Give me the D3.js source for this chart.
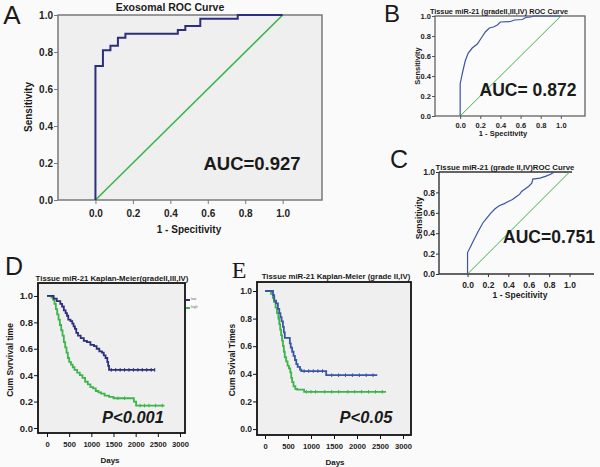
<!DOCTYPE html>
<html><head><meta charset="utf-8">
<script src="https://cdn.jsdelivr.net/npm/d3@7"></script>
<style>
body{margin:0;background:#fafafa}
svg{display:block}
text{font-family:"Liberation Sans",Arial,sans-serif}
</style>
</head><body>
<svg id="c" width="600" height="467"></svg>
<script>
// ---------------- DATA ----------------
const rocTicks = [0, 0.2, 0.4, 0.6, 0.8, 1.0];
const survTicks = [0, 0.2, 0.4, 0.6, 0.8, 1.0];
const dayTicks = [0, 500, 1000, 1500, 2000, 2500, 3000];
const diagonal = [[0, 0], [1, 1]];

// Panel A: exosomal ROC (1-specificity, sensitivity)
const rocA = [[0,0],[0,0.725],[0.04,0.725],[0.04,0.81],[0.08,0.81],[0.08,0.834],[0.12,0.834],[0.12,0.877],
  [0.16,0.877],[0.16,0.899],[0.44,0.899],[0.44,0.919],[0.48,0.919],[0.48,0.94],[0.56,0.94],[0.56,0.98],
  [0.76,0.98],[0.76,1.0],[1.0,1.0]];
// Panel B: tissue ROC grade II,III,IV
const rocB = [[0,0],[0,0.32],[0.02,0.42],[0.05,0.55],[0.08,0.63],[0.12,0.68],[0.17,0.72],[0.21,0.78],
  [0.25,0.84],[0.29,0.88],[0.33,0.89],[0.37,0.91],[0.40,0.94],[0.50,0.945],[0.54,0.96],[0.62,0.965],
  [0.65,0.985],[0.70,0.99],[0.73,1.0],[1.0,1.0]];
// Panel C: tissue ROC grade II,IV
const rocC = [[0,0],[0,0.21],[0.03,0.27],[0.06,0.33],[0.1,0.41],[0.15,0.5],[0.19,0.55],[0.23,0.6],
  [0.27,0.64],[0.31,0.67],[0.36,0.69],[0.4,0.71],[0.44,0.73],[0.48,0.76],[0.51,0.78],[0.53,0.81],
  [0.56,0.83],[0.6,0.86],[0.63,0.89],[0.64,0.93],[0.71,0.94],[0.77,0.96],[0.82,0.98],[0.85,1.0]];

// Panel D: Kaplan-Meier grade II,III,IV (days, cumulative survival)
const kmDLow = [[0,1],[150,0.98],[220,0.96],[300,0.94],[340,0.92],[380,0.89],[420,0.87],[450,0.85],
  [480,0.82],[530,0.81],[570,0.79],[600,0.77],[630,0.75],[660,0.72],[700,0.70],[760,0.68],[830,0.66],
  [900,0.65],[980,0.63],[1060,0.62],[1120,0.60],[1180,0.58],[1240,0.57],[1280,0.55],[1320,0.53],
  [1360,0.50],[1380,0.47],[1400,0.44],[2430,0.44]];
const kmDHigh = [[0,1],[100,0.99],[140,0.97],[170,0.94],[200,0.90],[230,0.86],[260,0.82],[290,0.78],
  [320,0.74],[350,0.70],[380,0.65],[410,0.61],[440,0.57],[470,0.53],[500,0.50],[540,0.48],[580,0.46],
  [620,0.44],[680,0.42],[740,0.40],[800,0.38],[860,0.35],[920,0.33],[980,0.31],[1040,0.30],[1100,0.28],
  [1160,0.27],[1220,0.26],[1300,0.245],[1400,0.235],[1500,0.225],[1900,0.225],[1960,0.20],[2010,0.17],[2650,0.17]];
const censorDLow = [1450,1550,1650,1750,1850,1950,2050,2150,2250,2350,2430];
const censorDHigh = [1600,1750,2100,2200,2300,2450,2600];

// Panel E: Kaplan-Meier grade II,IV
const kmELow = [[0,1],[175,0.97],[200,0.93],[240,0.91],[280,0.87],[310,0.84],[335,0.81],[360,0.78],
  [390,0.74],[410,0.70],[430,0.66],[525,0.66],[540,0.62],[560,0.59],[590,0.56],[620,0.53],[650,0.50],
  [680,0.47],[710,0.45],[760,0.43],[790,0.42],[1330,0.39],[2440,0.39]];
const kmEHigh = [[0,1],[130,0.98],[170,0.95],[200,0.92],[230,0.88],[260,0.84],[290,0.80],[310,0.76],
  [330,0.72],[350,0.68],[370,0.64],[390,0.60],[410,0.56],[430,0.52],[460,0.49],[490,0.46],[520,0.44],
  [550,0.41],[570,0.37],[590,0.34],[620,0.31],[660,0.29],[700,0.285],[850,0.27],[2630,0.27]];
const censorELow = [850,950,1050,1150,1250,1450,1600,1750,1900,2050,2200,2350];
const censorEHigh = [900,1000,1100,1300,1450,1600,1800,1950,2100,2250,2400,2550];

// ---------------- DRAW ----------------
const svg = d3.select("#c");
const NAVY = "#2c2f7c", BLUE = "#3a55a6", GREEN = "#3db54a";

function panel(o) {
  const x = d3.scaleLinear().domain(o.xd).range([o.x0, o.x1]);
  const y = d3.scaleLinear().domain(o.yd).range([o.y1, o.y0]);
  const g = svg.append("g");
  if (o.box) {
    g.append("rect").attr("x", o.x0).attr("y", o.y0).attr("width", o.x1 - o.x0).attr("height", o.y1 - o.y0)
      .attr("fill", o.fill).attr("stroke", o.boxStroke).attr("stroke-width", o.boxW);
  } else {
    g.append("path").attr("d", `M${o.x0},${o.y0}H${o.topEnd}M${o.x0},${o.y0}V${o.y1}H${o.x1}`)
      .attr("fill", "none").attr("stroke", o.boxStroke).attr("stroke-width", o.boxW);
  }
  const ax = g.append("g").attr("transform", `translate(0,${o.y1})`)
    .call(d3.axisBottom(x).tickValues(o.xt).tickFormat(o.xf).tickSize(o.tick).tickPadding(o.xpad));
  const ay = g.append("g").attr("transform", `translate(${o.x0},0)`)
    .call(d3.axisLeft(y).tickValues(o.yt).tickFormat(d3.format(".1f")).tickSize(o.tick).tickPadding(1));
  [ax, ay].forEach(a => {
    a.select(".domain").remove();
    a.selectAll("line").attr("stroke", o.boxStroke);
    a.selectAll("text").attr("fill", "#222").style("font-weight", "bold")
      .style("font-family", '"Liberation Sans",Arial,sans-serif');
  });
  ax.selectAll("text").style("font-size", o.xfs + "px");
  ay.selectAll("text").style("font-size", o.yfs + "px");
  return {x, y, g};
}

function line(p, data, color, w, curve) {
  p.g.append("path").datum(data)
    .attr("d", d3.line().x(d => p.x(d[0])).y(d => p.y(d[1])).curve(curve || d3.curveLinear))
    .attr("fill", "none").attr("stroke", color).attr("stroke-width", w).attr("stroke-linejoin", "miter");
}
function censor(p, days, km, color) {
  const f = t => { let v = 1; km.forEach(d => { if (d[0] <= t) v = d[1]; }); return v; };
  p.g.selectAll(null).data(days).enter().append("line")
    .attr("x1", d => p.x(d)).attr("x2", d => p.x(d))
    .attr("y1", d => p.y(f(d)) - 1.8).attr("y2", d => p.y(f(d)) + 1.8)
    .attr("stroke", color).attr("stroke-width", 1);
}
function txt(x, y, s, size, opts = {}) {
  const t = svg.append("text").attr("x", x).attr("y", y).text(s)
    .style("font-size", size + "px").attr("fill", opts.fill || "#1a1a1a")
    .style("font-weight", opts.weight || "bold").attr("text-anchor", opts.anchor || "middle");
  if (opts.italic) t.style("font-style", "italic");
  if (opts.family) t.style("font-family", opts.family);
  if (opts.rotate) t.attr("transform", `rotate(-90,${x},${y})`);
  return t;
}
const fmt1 = d3.format(".1f");

// ---- Panel A ----
const pA = panel({x0: 58, x1: 322, y0: 15, y1: 200, xd: [-0.2, 1.21], yd: [0, 1], xt: rocTicks, yt: rocTicks,
  xf: fmt1, tick: 4, xpad: 6, xfs: 10, yfs: 10, box: true, fill: "#efefef", boxStroke: "#7a7a7a", boxW: 1.5});
line(pA, diagonal, GREEN, 1.6);
line(pA, rocA, NAVY, 2);
txt(170, 11, "Exosomal ROC Curve", 10.5);
txt(32, 107, "Sensitivity", 10, {rotate: true});
txt(189, 233, "1 - Specitivity", 10);
txt(252, 170, "AUC=0.927", 18.5);
txt(12, 24, "A", 26, {weight: "normal"});

// ---- Panel B ----
const pB = panel({x0: 435, x1: 585, y0: 16, y1: 116, xd: [-0.25, 1.24], yd: [0, 1], xt: rocTicks, yt: rocTicks,
  xf: fmt1, tick: 3, xpad: 4, xfs: 7.5, yfs: 7.5, box: true, fill: "#fbfbfb", boxStroke: "#555", boxW: 1.2});
line(pB, diagonal, GREEN, 1);
line(pB, rocB, BLUE, 1.2);
txt(499, 14, "Tissue miR-21 (gradeII,III,IV) ROC Curve", 7.3);
txt(420, 66, "Sensitivity", 7.5, {rotate: true});
txt(503, 136, "1 - Specitivity", 7.5);
txt(528, 96, "AUC= 0.872", 17.5);
txt(392, 22, "B", 24, {weight: "normal"});

// ---- Panel C ----
const pC = panel({x0: 439, x1: 594, y0: 172, y1: 274, xd: [-0.28, 1.24], yd: [0, 1], xt: rocTicks, yt: rocTicks,
  xf: fmt1, tick: 3, xpad: 5, xfs: 8.5, yfs: 8.5, box: false, topEnd: 572, boxStroke: "#333", boxW: 1.4});
line(pC, diagonal, GREEN, 1);
line(pC, rocC, BLUE, 1.2);
txt(505, 170, "Tissue miR-21 (grade II,IV)ROC Curve", 7.8);
txt(422, 218, "Sensitivity", 8.5, {rotate: true});
txt(520, 298, "1 - Specitivity", 8.5);
txt(549, 243, "AUC=0.751", 17.5);
txt(399, 168, "C", 25, {weight: "normal"});

// ---- Panel D ----
const pD = panel({x0: 38, x1: 185, y0: 283, y1: 433, xd: [-203, 3113], yd: [-0.038, 1.098], xt: dayTicks, yt: survTicks,
  xf: d3.format("d"), tick: 4, xpad: 5, xfs: 7.6, yfs: 9.5, box: true, fill: "#efefef", boxStroke: "#111", boxW: 1.8});
line(pD, kmDHigh, GREEN, 1.8, d3.curveStepAfter);
line(pD, kmDLow, NAVY, 1.8, d3.curveStepAfter);
censor(pD, censorDLow, kmDLow, NAVY);
censor(pD, censorDHigh, kmDHigh, GREEN);
// small legend to the right of the frame
svg.append("line").attr("x1", 186).attr("x2", 190).attr("y1", 300).attr("y2", 300).attr("stroke", NAVY).attr("stroke-width", 2);
svg.append("line").attr("x1", 186).attr("x2", 190).attr("y1", 308).attr("y2", 308).attr("stroke", GREEN).attr("stroke-width", 2);
txt(191, 300, "low", 3.5, {anchor: "start", weight: "normal", fill: "#666"});
txt(191, 308, "high", 3.5, {anchor: "start", weight: "normal", fill: "#666"});
txt(112, 281, "Tissue miR-21 Kaplan-Meier(gradeII,III,IV)", 7.8);
txt(13, 360, "Cum Svrvival time", 8.5, {rotate: true});
txt(110, 463, "Days", 8);
txt(133, 423, "P<0.001", 16.5, {italic: true});
txt(14, 275, "D", 25, {weight: "normal"});

// ---- Panel E ----
const pE = panel({x0: 257, x1: 411, y0: 282, y1: 435, xd: [-174, 3174], yd: [-0.043, 1.065], xt: dayTicks, yt: survTicks,
  xf: d3.format("d"), tick: 4, xpad: 5, xfs: 7.6, yfs: 8.5, box: true, fill: "#efefef", boxStroke: "#111", boxW: 1.8});
line(pE, kmEHigh, GREEN, 1.8, d3.curveStepAfter);
line(pE, kmELow, BLUE, 1.8, d3.curveStepAfter);
censor(pE, censorELow, kmELow, BLUE);
censor(pE, censorEHigh, kmEHigh, GREEN);
txt(336, 279, "Tissue miR-21 Kaplan-Meier (grade II,IV)", 7.8);
txt(235, 360, "Cum Svival Times", 8.5, {rotate: true});
txt(335, 465, "Days", 8);
txt(366, 423, "P<0.05", 16.5, {italic: true});
txt(239, 278, "E", 24, {weight: "normal", family: '"Liberation Serif","Times New Roman",serif'});
</script>
</body></html>
